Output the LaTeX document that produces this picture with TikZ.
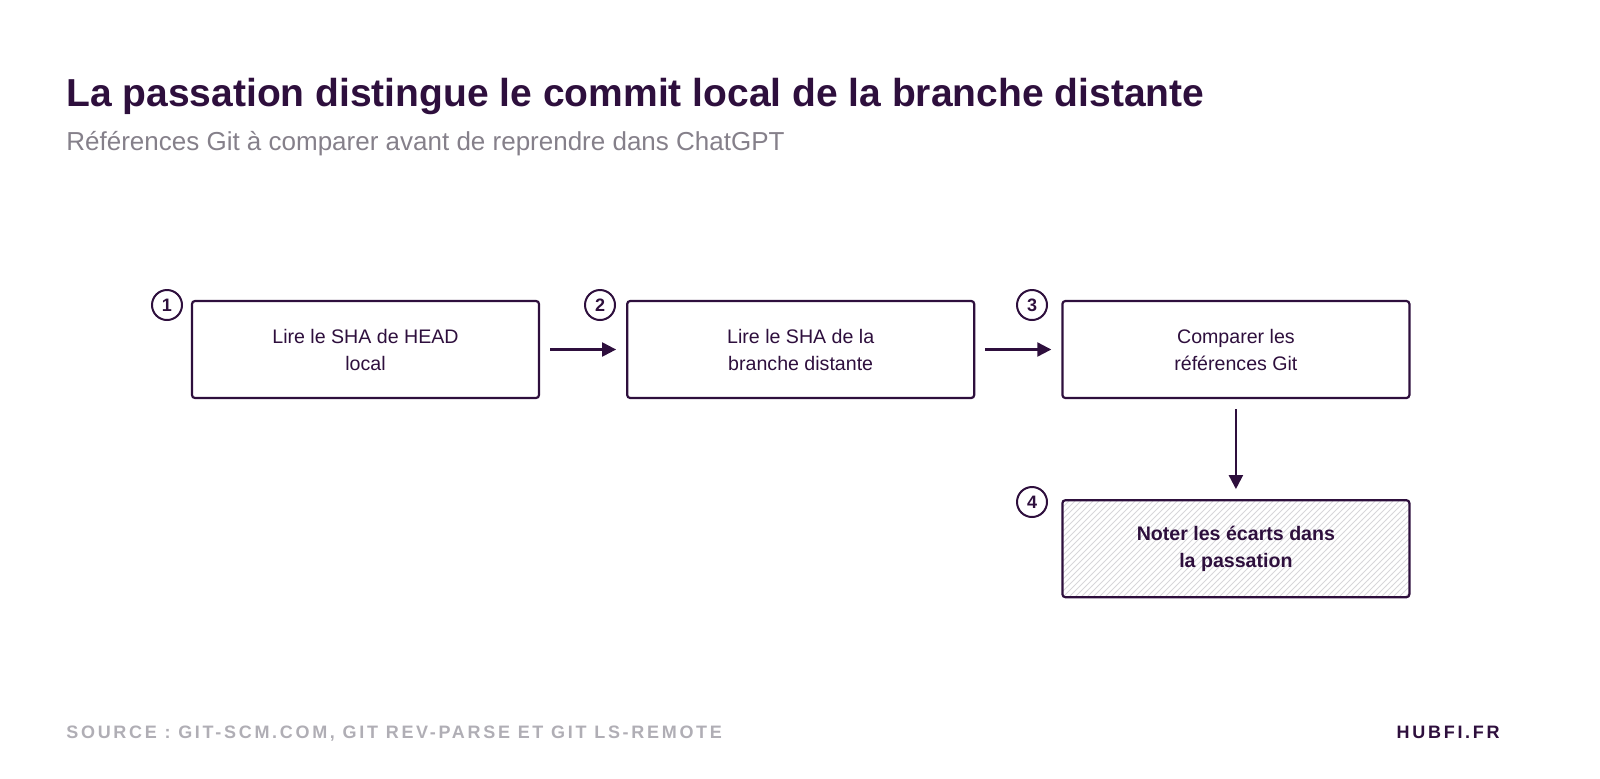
\documentclass[tikz,border=0pt]{standalone}
\usepackage{fontspec}
\setmainfont{Liberation Sans}
\usetikzlibrary{positioning,patterns,arrows.meta}
\definecolor{ink}{HTML}{2E0F3D}
\definecolor{subgray}{HTML}{85808A}
\definecolor{footgray}{HTML}{B0AEB5}
\tikzset{
  stage/.style={draw=ink,line width=1.1pt,rounded corners=1.5pt,minimum width=173.5pt,
    minimum height=48.5pt,align=center,text=ink,font=\fontsize{9.8}{13.5}\selectfont},
  badge/.style={circle,draw=ink,line width=1pt,minimum size=15pt,inner sep=0pt,
    text=ink,font=\fontsize{9}{9}\selectfont\bfseries},
  flow/.style={-{Triangle[length=7pt,width=7pt]},draw=ink,line width=1.1pt},
  caption/.style={inner sep=0pt,anchor=base west},
  footer/.style={inner sep=0pt,font=\fontsize{9}{9}\selectfont\bfseries\addfontfeature{LetterSpace=15}}
}
\begin{document}
\begin{tikzpicture}[x=0.5pt,y=-0.5pt]
  \useasboundingbox (0,0) rectangle (1600,778);
  \node[caption,text=ink,font=\fontsize{19.5}{19.5}\selectfont\bfseries] (title) at (66,106)
    {La passation distingue le commit local de la branche distante};
  \node[caption,text=subgray,font=\fontsize{13}{13}\selectfont] (subtitle) at (66,150)
    {Références Git à comparer avant de reprendre dans ChatGPT};
  % stages
  \node[stage] (lire) at (365.5,349.5) {Lire le SHA de HEAD\\local};
  \node[stage,right=43pt of lire] (distante) {Lire le SHA de la\\branche distante};
  \node[stage,right=43pt of distante] (comparer) {Comparer les\\références Git};
  \node[stage,below=50pt of comparer,pattern=north east lines,pattern color=footgray!50,
    font=\fontsize{9.8}{13.5}\selectfont\bfseries] (noter) {Noter les écarts dans\\la passation};
  % badges
  \node[badge] (b1) at (167,305) {1};
  \node[badge] (b2) at (600,305) {2};
  \node[badge] (b3) at (1032,305) {3};
  \node[badge] (b4) at (1032,502) {4};
  % connectors
  \draw[flow] ([xshift=5pt]lire.east) -- ([xshift=-5pt]distante.west);
  \draw[flow] ([xshift=5pt]distante.east) -- ([xshift=-5pt]comparer.west);
  \draw[flow] ([yshift=-5pt]comparer.south) -- ([yshift=5pt]noter.north);
  % footer
  \node[footer,anchor=base west,text=footgray] (source) at (66,738)
    {SOURCE : GIT-SCM.COM, GIT REV-PARSE ET GIT LS-REMOTE};
  \node[footer,anchor=base east,text=ink] (brand) at (1500,738) {HUBFI.FR};
\end{tikzpicture}
\end{document}
